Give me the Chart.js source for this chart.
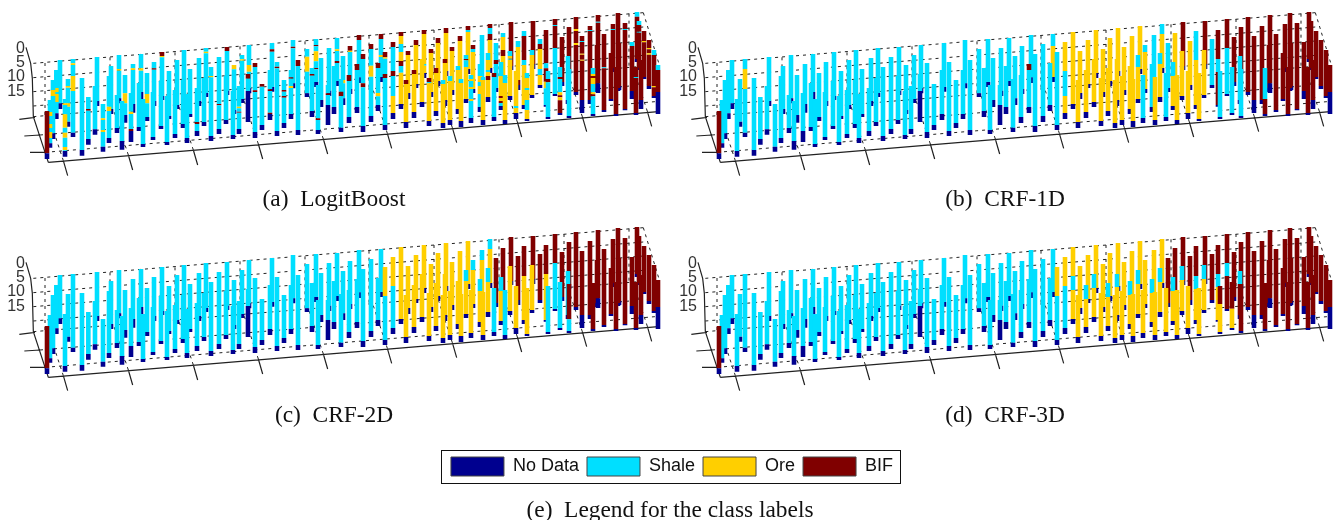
<!DOCTYPE html>
<html>
<head>
<meta charset="utf-8">
<title>Class labels per method</title>
<script src="https://cdn.jsdelivr.net/npm/chart.js@4/dist/chart.umd.min.js"></script>
<style>
    html, body { margin: 0; padding: 0; background: #fff; }
    body { position: relative; width: 1338px; height: 520px; overflow: hidden; }
    canvas { position: absolute; }
    .caption {
        position: absolute;
        font-family: "Liberation Serif", serif;
        font-size: 23.4px;
        line-height: 26px;
        color: #111;
        text-align: center;
        white-space: nowrap;
    }
    #legend-box {
        position: absolute;
        left: 441px; top: 450px;
        width: 458px; height: 32px;
        border: 1.5px solid #111;
    }
</style>
</head>
<body>
<canvas id="panel-a" width="666" height="215" style="left:0;top:0"></canvas>
<canvas id="panel-b" width="666" height="215" style="left:672px;top:0"></canvas>
<canvas id="panel-c" width="666" height="215" style="left:0;top:215px"></canvas>
<canvas id="panel-d" width="666" height="215" style="left:672px;top:215px"></canvas>
<div id="legend-box"><canvas id="legend-chart" width="478" height="64" style="left:-9px;top:-2px"></canvas></div>

<div class="caption" style="left:134px;width:400px;top:185px">(a)&nbsp; LogitBoost</div>
<div class="caption" style="left:805px;width:400px;top:185px">(b)&nbsp; CRF-1D</div>
<div class="caption" style="left:134px;width:400px;top:401px">(c)&nbsp; CRF-2D</div>
<div class="caption" style="left:805px;width:400px;top:401px">(d)&nbsp; CRF-3D</div>
<div class="caption" style="left:470px;width:400px;top:496px">(e)&nbsp; Legend for the class labels</div>

<script>
// Drill holes, in plot units (same for all four panels)
const holeX = [
    141, 150, 159, 169, 180, 195, 204, 219, 246, 265,
    285, 291, 309, 327, 333, 351, 357, 366, 375, 393,
    399, 417, 423, 429, 441, 459, 462, 483, 486, 501,
    507, 525, 531, 549, 552, 561, 570, 591, 597, 612,
    618, 633, 657, 678, 681, 699, 702, 717, 726, 744,
    747, 765, 786, 810, 816, 831, 852, 873, 879, 894,
    921, 936, 948, 954, 963, 984, 987, 1002, 1011, 1023,
    1029, 1047, 1050, 1071, 1077, 1089, 1113, 1134, 1143, 1155,
    1179, 1203, 1218, 1224, 1242, 1248, 1266, 1272, 1287, 1293,
    1308, 1314, 1329, 1338, 1335, 1350, 1356, 1374, 1380, 1383,
    1398, 1404, 1413, 1419, 1440, 1446, 1449, 1464, 1470, 1482,
    1488, 1503, 1509, 1515, 1530, 1533, 1548, 1554, 1572, 1581,
    1596, 1599, 1620, 1638, 1644, 1665, 1680, 1686, 1707, 1704,
    1707, 1728, 1746, 1770, 1779, 1791, 1794, 1812, 1833, 1839,
    1848, 1854, 1857, 1875, 1896, 1908, 1911, 1917, 1923, 1932,
    1947, 1962, 1974
];
const holeTop = [
    333, 300, 240, 210, 180, 297, 237, 177, 234, 291,
    258, 171, 312, 228, 198, 285, 165, 303, 225, 279,
    192, 249, 162, 297, 219, 276, 186, 243, 156, 288,
    213, 270, 180, 240, 150, 282, 207, 264, 174, 234,
    144, 201, 171, 228, 141, 273, 195, 258, 165, 222,
    135, 189, 252, 210, 129, 186, 240, 210, 120, 180,
    147, 204, 117, 255, 174, 255, 144, 198, 114, 237,
    168, 225, 138, 192, 105, 162, 132, 189, 102, 156,
    126, 96, 240, 153, 210, 120, 177, 90, 234, 147,
    204, 114, 240, 84, 177, 228, 141, 198, 108, 237,
    165, 78, 225, 135, 192, 105, 231, 159, 72, 219,
    129, 186, 99, 225, 153, 66, 213, 123, 93, 219,
    150, 63, 117, 90, 213, 57, 201, 111, 81, 168,
    207, 51, 108, 78, 204, 135, 45, 102, 159, 72,
    201, 39, 129, 69, 126, 201, 36, 63, 180, 93,
    120, 150, 195
];
// where the logged part of the hole stops
const holeEnd = [
    460, 430, 400, 340, 310, 453, 365, 398, 450, 417,
    388, 303, 440, 414, 327, 384, 295, 423, 345, 393,
    312, 381, 276, 432, 351, 411, 303, 378, 288, 426,
    348, 402, 315, 372, 285, 414, 342, 393, 303, 366,
    279, 408, 387, 360, 272, 405, 330, 387, 297, 273,
    265, 396, 375, 342, 261, 393, 369, 342, 250, 390,
    280, 333, 246, 390, 300, 315, 272, 321, 243, 383,
    295, 351, 267, 321, 232, 378, 348, 315, 231, 375,
    339, 312, 366, 279, 336, 252, 306, 219, 363, 276,
    333, 243, 369, 213, 300, 360, 270, 327, 237, 363,
    297, 207, 354, 267, 321, 231, 360, 291, 204, 351,
    264, 318, 228, 360, 288, 198, 339, 255, 315, 357,
    285, 192, 255, 315, 351, 282, 339, 246, 210, 300,
    348, 276, 300, 300, 342, 264, 250, 330, 297, 204,
    342, 264, 258, 327, 273, 339, 177, 204, 300, 231,
    258, 288, 276
];
// bottom of the "No Data" part
const holeBase = [
    477, 443, 417, 357, 327, 470, 380, 411, 467, 434,
    404, 318, 455, 429, 342, 399, 310, 449, 368, 426,
    338, 393, 297, 441, 363, 420, 318, 387, 300, 435,
    357, 414, 327, 384, 297, 429, 351, 408, 318, 378,
    291, 423, 402, 372, 285, 417, 342, 402, 309, 366,
    280, 414, 390, 360, 275, 408, 384, 357, 265, 405,
    291, 351, 261, 402, 321, 375, 288, 342, 258, 396,
    315, 369, 282, 339, 249, 396, 366, 333, 246, 390,
    357, 327, 384, 297, 354, 264, 321, 234, 378, 291,
    348, 258, 384, 228, 318, 375, 285, 342, 252, 381,
    309, 222, 369, 279, 336, 246, 375, 306, 219, 363,
    276, 330, 243, 372, 300, 210, 357, 270, 327, 363,
    294, 207, 264, 320, 357, 288, 345, 258, 222, 312,
    354, 285, 339, 312, 348, 276, 279, 336, 303, 216,
    348, 273, 270, 331, 297, 345, 186, 210, 327, 237,
    267, 294, 342
];

// Labels down each hole: class letter + run length, last run goes to the hole end
const logitBoost = `
    B S36O12S24O12S12O18S S30O18S S54O12S6O24S S S13O5S28O40S15O15S28O10S S21O5S47O10S S13O5S33O45S S S36B5S
    S S S43O5S30O6S S92O13S S S S42O5S S S55O30S S56O7S45B6S
    S13O5S S S43O7S S S63O28S S S19B4S S B12O4S S
    S S S S S S S S102B6S S S
    S11O5S S27O4S S141B4S S B12S S O13S S62O5S10B3S S13O4S B14S
    S60O20S B12S70B5S B8S S58B5S65B7S S19B7S S14B5S S30B5S13B5S S22B4S22O6S S20B5S B18S
    S23O45S S18B5S S18B4S15O30S20B4S S100B5S S S25B5S S S S34O5S30B6S S38B14S
    S72O10S B18S B14O4S B18S B15S B15S73B12S B15S50O33S B15S75O10S B15S48O6S B16O4S46B12S
    B15S72B15S60O B12O24S24O27B15S20O B12O B12O B12O B15O O B12O90S5O B12S4O B12O
    B15O B15O S12O B15O B12O S15O B12O S12O B15O S12O
    S12B4S20O B12S6O S12O6S18O6S30O6S B12S9O S36O18S12O24S S S9O S21O30S6O12B12O B12S18B18O B12S
    S51B12S S42O60B6O9B6S S12O39B18O S24O S15O8S3O B O105S6O S18O99B S15B72S15O S15O30S6O30S30O
    S15O B S15B15O60S18O B100S15B40O20S S24B10S B18S3B66S S30B6S40O9B6O9B B B S
    S B36O6B36O6B B15S3B35O3B15O3B B12S3B S18O6B6O18S25O6B6S B B20S3B B100S3B B B15S3B
    B B B B18S3B S12B B30S3B S14B S12B20S3B B B30O4B
    B24O4B12O4B S15B93O4B S15B`.trim().split(/\s+/);
const crf1d = `
    B S S S S S S S30O60S S S
    S S S S S S S S S S
    S S S S S S S S S S
    S S S S S S S S S S
    S S S S S S S S S S
    S S S S S S S S S S
    S S S S S S S S S S
    S S S B18S S S S S S36O S
    O87S75O O O O O O O O O O
    O O O O O O O O O O
    S36O O S S21O S S O S33O S30O S
    S S42O O O O B O O S87O O
    O B S B87S39B S B87S S B B S
    S B B B S93B B B B B B
    B B B B B B B B B B
    B B B`.trim().split(/\s+/);
const crf2d = `
    B S S S S S S S S S
    S S S S S S S S S S
    S S S S S S S S S S
    S S S S S S S S S S
    S S S S S S S S S S
    S S S S S S S S S S
    S S S S S S S S S S
    S S S S S S S S S O87S
    O87S O O O O O O O O O
    O O O O O O O O O O
    S33O O O S30O S36O S30O O S42O S30O S
    B S42O B S O B O B B90O O
    O B B B87O S B87S S B B S
    B106S B B B B B B B B B
    B B B B B B B B B B
    B B B`.trim().split(/\s+/);
const crf3d = `
    B S S S S S S S S S
    S S S S S S S S S S
    S S S S S S S S S S
    S S S S S S S S S S
    S S S S S S S S S S
    S S S S S S S S S S
    S S S S S S S S S S
    S S S S S S S S S O87S
    O87S O87S42O O O S42O O S42O O O O
    S42O O O O S39O O O S42O O O
    S42O O O O S42O O O S42O O O
    B S42O B O S42O B O B B90S39O O
    S42O B B B87S39O B54O B87S39B B80O B B S39B
    B B B B B B B B B B
    B B B B B B B B B B
    B B B`.trim().split(/\s+/);

const classNames = ['No Data', 'Shale', 'Ore', 'BIF'];
const classColors = { N: '#00008f', S: '#00dfff', O: '#ffcf00', B: '#800000' };

const depthTickValues = [145, 187, 229, 274];
const depthTickLabels = ['0', '5', '10', '15'];
const xTickFeet = [[190, 482], [385, 465], [580, 450], [775, 432], [970, 417],
                   [1162, 400], [1357, 383], [1552, 366], [1747, 350], [1942, 334]];
const sideTickFeet = [[135, 457], [120, 405], [105, 352]];
const sideTickEnds = [[90, 457], [73, 408], [58, 358]];
const wallLevels = [190, 233, 275, 318];
const wallDrop = 152;

// ========== HOLE DATASETS ========== //
function holeDataset(i, labels) {
    const points = [{ x: holeX[i], y: holeTop[i] }];
    const colors = [];
    let y = holeTop[i];
    for (const run of labels[i].matchAll(/([SOB])(\d*)/g)) {
        y = run[2] ? Math.min(y + Number(run[2]), holeEnd[i]) : holeEnd[i];
        points.push({ x: holeX[i], y });
        colors.push(classColors[run[1]]);
    }
    if (y < holeEnd[i]) {
        points.push({ x: holeX[i], y: holeEnd[i] });
        colors.push(colors[colors.length - 1]);
    }
    points.push({ x: holeX[i], y: holeBase[i] });
    colors.push(classColors.N);
    return {
        data: points,
        showLine: true,
        borderWidth: 4.6,
        borderColor: colors[0],
        pointRadius: 0,
        clip: false,
        segment: { borderColor: ctx => colors[ctx.p0DataIndex] }
    };
}

// nearest hole first: Chart.js paints the first dataset last
function nearestFirst() {
    const order = holeX.map((x, i) => i);
    return order.sort((a, b) => (holeBase[b] + 0.083 * holeX[b]) - (holeBase[a] + 0.083 * holeX[a]));
}

// ========== BOX AROUND THE HOLES ========== //
function pathData(lines) {
    const data = [];
    lines.forEach(line => {
        line.forEach(p => data.push({ x: p[0], y: p[1] }));
        data.push({ x: line[0][0], y: null });
    });
    return data;
}

function frameDatasets() {
    const solid = [
        [[145, 487], [1975, 335]],
        [[145, 487], [100, 350], [97, 235], [92, 190], [78, 142]]
    ];
    xTickFeet.forEach(p => solid.push([p, [p[0] + 13, p[1] + 45]]));
    sideTickFeet.forEach((p, i) => solid.push([p, sideTickEnds[i]]));

    const dotted = wallLevels.map(y => [[100, y], [1930, y - wallDrop]]);
    dotted.push([[100, 350], [1938, 198]]);
    dotted.push([[135, 457], [1965, 305]], [[120, 405], [1950, 253]]);
    dotted.push([[1930, 38], [1978, 195]]);
    xTickFeet.forEach(p => {
        dotted.push([p, [p[0] - 45, p[1] - 137]]);
        dotted.push([[p[0] - 55, p[1] - 137], [p[0] - 55, p[1] - 297]]);
    });

    const base = { showLine: true, pointRadius: 0, clip: false, spanGaps: false };
    return [
        { ...base, data: pathData(solid), borderColor: '#222', borderWidth: 1.2 },
        { ...base, data: pathData(dotted), borderColor: '#222', borderWidth: 1, borderDash: [3, 4] }
    ];
}

// ========== PANELS ========== //
function drawPanel(id, labels) {
    new Chart(document.getElementById(id), {
        type: 'scatter',
        data: { datasets: nearestFirst().map(i => holeDataset(i, labels)).concat(frameDatasets()) },
        options: {
            responsive: false,
            animation: false,
            events: [],
            layout: { padding: 0 },
            plugins: { legend: { display: false }, tooltip: { enabled: false } },
            scales: {
                x: { type: 'linear', min: 75, max: 1998, display: false },
                y: {
                    type: 'linear', min: 0, max: 645, reverse: true,
                    afterBuildTicks: axis => { axis.ticks = depthTickValues.map(value => ({ value })); },
                    afterFit: axis => {
                        axis.width = 25;
                        // no room for half a label above and below, the scale must fill the canvas
                        axis.paddingTop = 0;
                        axis.paddingBottom = 0;
                    },
                    grid: { display: false, drawTicks: false },
                    border: { display: false },
                    ticks: {
                        padding: 0,
                        autoSkip: false,
                        color: '#333',
                        font: { family: '"Liberation Sans", sans-serif', size: 16 },
                        callback: value => depthTickLabels[depthTickValues.indexOf(value)]
                    }
                }
            }
        }
    });
}

drawPanel('panel-a', logitBoost);
drawPanel('panel-b', crf1d);
drawPanel('panel-c', crf2d);
drawPanel('panel-d', crf3d);

// ========== LEGEND ========== //
new Chart(document.getElementById('legend-chart'), {
    type: 'scatter',
    data: {
        datasets: classNames.map((name, i) => ({
            label: name,
            data: [],
            backgroundColor: Object.values(classColors)[i],
            borderColor: '#444',
            borderWidth: 1
        }))
    },
    options: {
        responsive: false,
        animation: false,
        events: [],
        layout: { padding: 0 },
        scales: { x: { display: false }, y: { display: false } },
        plugins: {
            tooltip: { enabled: false },
            legend: {
                position: 'top',
                labels: {
                    boxWidth: 53,
                    boxHeight: 19,
                    padding: 8,
                    color: '#111',
                    font: { family: '"Liberation Sans", sans-serif', size: 18 }
                }
            }
        }
    }
});
</script>
</body>
</html>
